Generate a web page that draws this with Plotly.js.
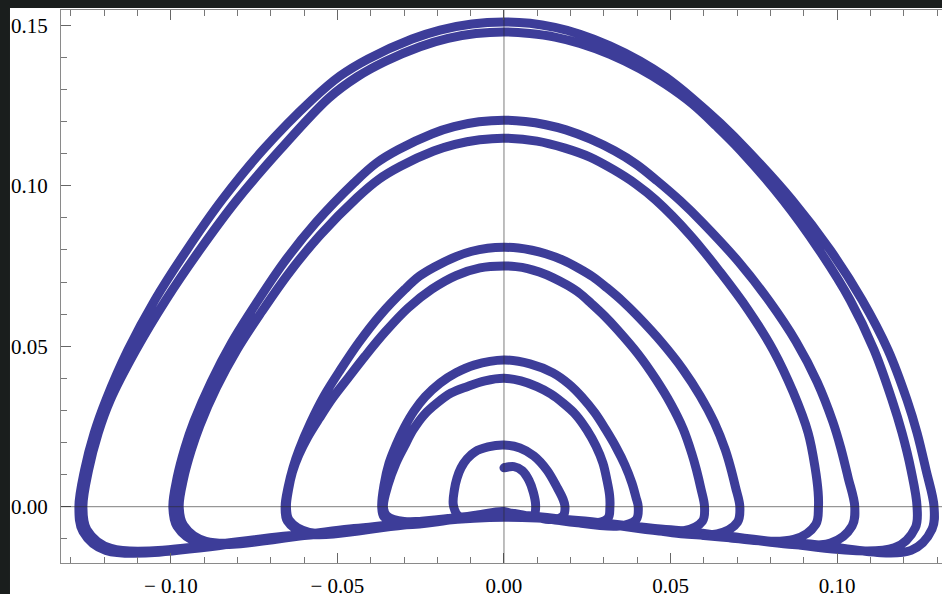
<!DOCTYPE html>
<html><head><meta charset="utf-8">
<script src="https://cdn.plot.ly/plotly-3.0.1.min.js"></script>
<style>html,body{margin:0;padding:0;background:#1a1e1d;} #chart{width:942px;height:594px;}</style>
</head><body><div id="chart"></div>
<script>
// Trajectory, in order (inner hook -> outer loops)
const hookX = [0.0000, 0.0030, 0.0055, 0.0075, 0.0088, 0.0095];
const hookY = [0.0121, 0.0125, 0.0112, 0.0082, 0.0045, 0.0005];
const sw1X = [0.0090, 0.0060, 0.0000, -0.0080, -0.0135];
const sw1Y = [-0.0026, -0.0034, -0.0015, -0.0026, -0.0030];
const a1X = [-0.0152, -0.0149, -0.0141, -0.0129, -0.0111, -0.0087, -0.0048, 0.0000, 0.0048, 0.0090, 0.0129, 0.0159, 0.0177, 0.0183];
const a1Y = [0.0005, 0.0052, 0.0089, 0.0121, 0.0149, 0.0171, 0.0186, 0.0192, 0.0183, 0.0158, 0.0114, 0.0061, 0.0024, 0.0002];
const sw2X = [0.0178, 0.0145, 0.0080, 0.0000, -0.0150, -0.0300, -0.0352];
const sw2Y = [-0.0028, -0.0040, -0.0030, -0.0018, -0.0035, -0.0046, -0.0028];
const a2X = [-0.0362, -0.0348, -0.0324, -0.0300, -0.0273, -0.0240, -0.0201, -0.0159, -0.0111, -0.0057, 0.0000, 0.0051, 0.0099, 0.0141, 0.0177, 0.0216, 0.0249, 0.0276, 0.0297, 0.0309, 0.0317, 0.0318];
const a2Y = [0.0000, 0.0068, 0.0136, 0.0186, 0.0239, 0.0286, 0.0323, 0.0354, 0.0374, 0.0392, 0.0400, 0.0392, 0.0374, 0.0351, 0.0323, 0.0286, 0.0239, 0.0189, 0.0136, 0.0083, 0.0036, 0.0000];
const sw3X = [0.0312, 0.0265, 0.0130, 0.0000, -0.0150, -0.0310, -0.0360];
const sw3Y = [-0.0036, -0.0052, -0.0038, -0.0021, -0.0040, -0.0055, -0.0032];
const a3X = [-0.0367, -0.0360, -0.0345, -0.0324, -0.0300, -0.0270, -0.0237, -0.0192, -0.0144, -0.0090, 0.0000, 0.0078, 0.0147, 0.0195, 0.0234, 0.0273, 0.0306, 0.0336, 0.0363, 0.0384, 0.0396, 0.0403];
const a3Y = [0.0000, 0.0068, 0.0136, 0.0192, 0.0245, 0.0298, 0.0342, 0.0385, 0.0417, 0.0441, 0.0457, 0.0445, 0.0417, 0.0382, 0.0342, 0.0292, 0.0239, 0.0186, 0.0130, 0.0074, 0.0030, 0.0000];
const sw4X = [0.0397, 0.0345, 0.0180, 0.0000, -0.0300, -0.0585, -0.0645];
const sw4Y = [-0.0040, -0.0060, -0.0045, -0.0023, -0.0055, -0.0080, -0.0042];
const a4X = [-0.0653, -0.0647, -0.0635, -0.0616, -0.0589, -0.0554, -0.0514, -0.0468, -0.0417, -0.0357, -0.0288, -0.0216, -0.0144, -0.0072, 0.0000,
             0.0036, 0.0071, 0.0106, 0.0148, 0.0190, 0.0227, 0.0263, 0.0302, 0.0340, 0.0403, 0.0456, 0.0501, 0.0538, 0.0564, 0.0578, 0.0591, 0.0602];
const a4Y = [0.0000, 0.0052, 0.0108, 0.0161, 0.0217, 0.0276, 0.0339, 0.0401, 0.0469, 0.0544, 0.0619, 0.0678, 0.0720, 0.0744, 0.0750,
             0.0748, 0.0742, 0.0731, 0.0713, 0.0690, 0.0665, 0.0632, 0.0594, 0.0552, 0.0475, 0.0397, 0.0320, 0.0242, 0.0165, 0.0114, 0.0057, 0.0000];
const sw5X = [0.0596, 0.0540, 0.0270, 0.0000, -0.0300, -0.0595, -0.0650];
const sw5Y = [-0.0045, -0.0075, -0.0050, -0.0025, -0.0057, -0.0083, -0.0045];
const a5X = [-0.0657, -0.0648, -0.0633, -0.0615, -0.0581, -0.0540, -0.0490, -0.0436, -0.0373, -0.0297, -0.0254, -0.0210, -0.0142, -0.0099, -0.0049, 0.0000,
             0.0043, 0.0084, 0.0125, 0.0175, 0.0224, 0.0267, 0.0310, 0.0356, 0.0400, 0.0474, 0.0537, 0.0589, 0.0632, 0.0664, 0.0680, 0.0695, 0.0708];
const a5Y = [0.0000, 0.0061, 0.0123, 0.0178, 0.0261, 0.0345, 0.0428, 0.0511, 0.0595, 0.0678, 0.0718, 0.0746, 0.0780, 0.0795, 0.0805, 0.0808,
             0.0806, 0.0799, 0.0788, 0.0769, 0.0743, 0.0716, 0.0681, 0.0640, 0.0595, 0.0511, 0.0428, 0.0345, 0.0261, 0.0178, 0.0123, 0.0061, 0.0000];
const sw6X = [0.0701, 0.0640, 0.0320, 0.0000, -0.0450, -0.0895, -0.0962];
const sw6Y = [-0.0048, -0.0085, -0.0056, -0.0027, -0.0068, -0.0108, -0.0058];
const a6X = [-0.0975, -0.0962, -0.0939, -0.0913, -0.0863, -0.0801, -0.0727, -0.0647, -0.0553, -0.0441, -0.0376, -0.0312, -0.0211, -0.0147, -0.0073, 0.0000,
             0.0099, 0.0183, 0.0258, 0.0330, 0.0396, 0.0456, 0.0559, 0.0649, 0.0733, 0.0808, 0.0868, 0.0913, 0.0934, 0.0943, 0.0944];
const a6Y = [0.0000, 0.0087, 0.0175, 0.0253, 0.0371, 0.0490, 0.0608, 0.0726, 0.0845, 0.0963, 0.1020, 0.1060, 0.1108, 0.1129, 0.1143, 0.1148,
             0.1139, 0.1117, 0.1089, 0.1049, 0.1005, 0.0955, 0.0846, 0.0731, 0.0613, 0.0488, 0.0357, 0.0230, 0.0121, 0.0046, 0.0000];
const sw7X = [0.0936, 0.0870, 0.0430, 0.0000, -0.0450, -0.0915, -0.0982];
const sw7Y = [-0.0055, -0.0102, -0.0066, -0.0029, -0.0070, -0.0112, -0.0060];
const a7X = [-0.0994, -0.0981, -0.0958, -0.0931, -0.0879, -0.0816, -0.0741, -0.0660, -0.0564, -0.0449, -0.0384, -0.0318, -0.0215, -0.0150, -0.0075, 0.0000,
             0.0064, 0.0125, 0.0186, 0.0260, 0.0333, 0.0397, 0.0460, 0.0529, 0.0595, 0.0705, 0.0798, 0.0877, 0.0940, 0.0987, 0.1011, 0.1033, 0.1053];
const a7Y = [0.0000, 0.0091, 0.0183, 0.0265, 0.0389, 0.0514, 0.0638, 0.0762, 0.0886, 0.1010, 0.1070, 0.1112, 0.1162, 0.1184, 0.1199, 0.1204,
             0.1200, 0.1190, 0.1174, 0.1145, 0.1108, 0.1067, 0.1015, 0.0953, 0.0886, 0.0762, 0.0638, 0.0514, 0.0389, 0.0265, 0.0183, 0.0091, 0.0000];
const sw8X = [0.1045, 0.0980, 0.0500, 0.0000, -0.0600, -0.1180, -0.1252];
const sw8Y = [-0.0060, -0.0113, -0.0072, -0.0031, -0.0086, -0.0130, -0.0072];
const a8X = [-0.1264, -0.1247, -0.1218, -0.1182, -0.1105, -0.1015, -0.0913, -0.0802, -0.0673, -0.0526, -0.0441, -0.0357, -0.0252, -0.0168, -0.0084, 0.0000,
             0.0078, 0.0153, 0.0228, 0.0318, 0.0408, 0.0486, 0.0565, 0.0637, 0.0709, 0.0838, 0.0946, 0.1039, 0.1111, 0.1165, 0.1195, 0.1222, 0.1240];
const a8Y = [0.0000, 0.0114, 0.0230, 0.0332, 0.0488, 0.0644, 0.0800, 0.0955, 0.1111, 0.1273, 0.1339, 0.1387, 0.1433, 0.1459, 0.1474, 0.1479,
             0.1474, 0.1463, 0.1443, 0.1409, 0.1364, 0.1315, 0.1255, 0.1186, 0.1111, 0.0955, 0.0800, 0.0644, 0.0488, 0.0332, 0.0230, 0.0114, 0.0000];
const sw9X = [0.1235, 0.1172, 0.0600, 0.0000, -0.0600, -0.1195, -0.1264];
const sw9Y = [-0.0065, -0.0128, -0.0084, -0.0033, -0.0090, -0.0136, -0.0077];
const a9X = [-0.1276, -0.1259, -0.1230, -0.1195, -0.1129, -0.1048, -0.0952, -0.0847, -0.0724, -0.0577, -0.0492, -0.0408, -0.0276, -0.0192, -0.0096, 0.0000,
             0.0078, 0.0153, 0.0228, 0.0318, 0.0408, 0.0486, 0.0565, 0.0649, 0.0730, 0.0865, 0.0979, 0.1075, 0.1153, 0.1210, 0.1240, 0.1267, 0.1291];
const a9Y = [0.0000, 0.0114, 0.0230, 0.0332, 0.0488, 0.0644, 0.0800, 0.0955, 0.1111, 0.1267, 0.1342, 0.1395, 0.1457, 0.1485, 0.1504, 0.1510,
             0.1506, 0.1493, 0.1472, 0.1436, 0.1389, 0.1338, 0.1273, 0.1195, 0.1111, 0.0955, 0.0800, 0.0644, 0.0488, 0.0332, 0.0230, 0.0114, 0.0000];
const tailX = [0.1285, 0.1222, 0.0900, 0.0600];
const tailY = [-0.0070, -0.0136, -0.0115, -0.0090];

const xTickVals = [-0.10, -0.05, 0.00, 0.05, 0.10];
const xTickText = ['\u2212 0.10', '\u2212 0.05', '0.00', '0.05', '0.10'];
const yTickVals = [0.00, 0.05, 0.10, 0.15];
const yTickText = ['0.00', '0.05', '0.10', '0.15'];

const segX = [hookX, sw1X, a1X, sw2X, a2X, sw3X, a3X, sw4X, a4X, sw5X, a5X, sw6X, a6X, sw7X, a7X, sw8X, a8X, sw9X, a9X, tailX];
const segY = [hookY, sw1Y, a1Y, sw2Y, a2Y, sw3Y, a3Y, sw4Y, a4Y, sw5Y, a5Y, sw6Y, a6Y, sw7Y, a7Y, sw8Y, a8Y, sw9Y, a9Y, tailY];
const trajX = [].concat(...segX);
const trajY = [].concat(...segY);

const purple = '#3d3d99';
const tickFont = {family: 'Liberation Serif, DejaVu Serif, serif', size: 21, color: '#000'};

const traces = [
  {x: trajX, y: trajY, type: 'scatter', mode: 'lines',
   line: {color: purple, width: 9, shape: 'spline', smoothing: 1}, hoverinfo: 'skip'},
  {x: [trajX[0], trajX[trajX.length - 1]], y: [trajY[0], trajY[trajY.length - 1]], type: 'scatter', mode: 'markers',
   marker: {color: purple, size: 9}, hoverinfo: 'skip'}
];

const layout = {
  width: 942, height: 594,
  margin: {l: 61, r: 0, t: 10, b: 31, pad: 0},
  paper_bgcolor: '#1a1e1d', plot_bgcolor: '#ffffff',
  showlegend: false,
  xaxis: {
    range: [-0.13298, 0.13149], tickmode: 'array', tickvals: xTickVals, ticktext: xTickText,
    ticks: 'inside', ticklen: 10, tickwidth: 1, tickcolor: '#666',
    showline: true, linecolor: '#8a8a8a', linewidth: 1, mirror: 'ticks',
    showgrid: false, zeroline: false, tickfont: tickFont, ticklabelstandoff: 4,
    minor: {dtick: 0.01, tick0: 0, ticks: 'inside', ticklen: 6, tickcolor: '#777', tickwidth: 1, showgrid: false}
  },
  yaxis: {
    range: [-0.01754, 0.15474], tickmode: 'array', tickvals: yTickVals, ticktext: yTickText,
    ticks: 'inside', ticklen: 10, tickwidth: 1, tickcolor: '#666',
    showline: true, linecolor: '#8a8a8a', linewidth: 1, mirror: false,
    showgrid: false, zeroline: false, tickfont: tickFont, ticklabelstandoff: 8,
    minor: {dtick: 0.01, tick0: 0, ticks: 'inside', ticklen: 6, tickcolor: '#777', tickwidth: 1, showgrid: false}
  },
  shapes: [
    {type: 'rect', xref: 'paper', yref: 'paper', x0: -0.0579, x1: 1.02, y0: -0.07, y1: 1.0036,
     fillcolor: '#ffffff', line: {width: 0}, layer: 'below'},
    {type: 'line', xref: 'x', yref: 'paper', x0: 0, x1: 0, y0: 0, y1: 1,
     line: {color: 'rgba(40,40,40,0.6)', width: 1}, layer: 'above'},
    {type: 'line', xref: 'paper', yref: 'y', x0: 0, x1: 1, y0: 0, y1: 0,
     line: {color: 'rgba(40,40,40,0.6)', width: 1}, layer: 'above'}
  ]
};

Plotly.newPlot('chart', traces, layout, {displayModeBar: false, staticPlot: true});
</script>
</body></html>
